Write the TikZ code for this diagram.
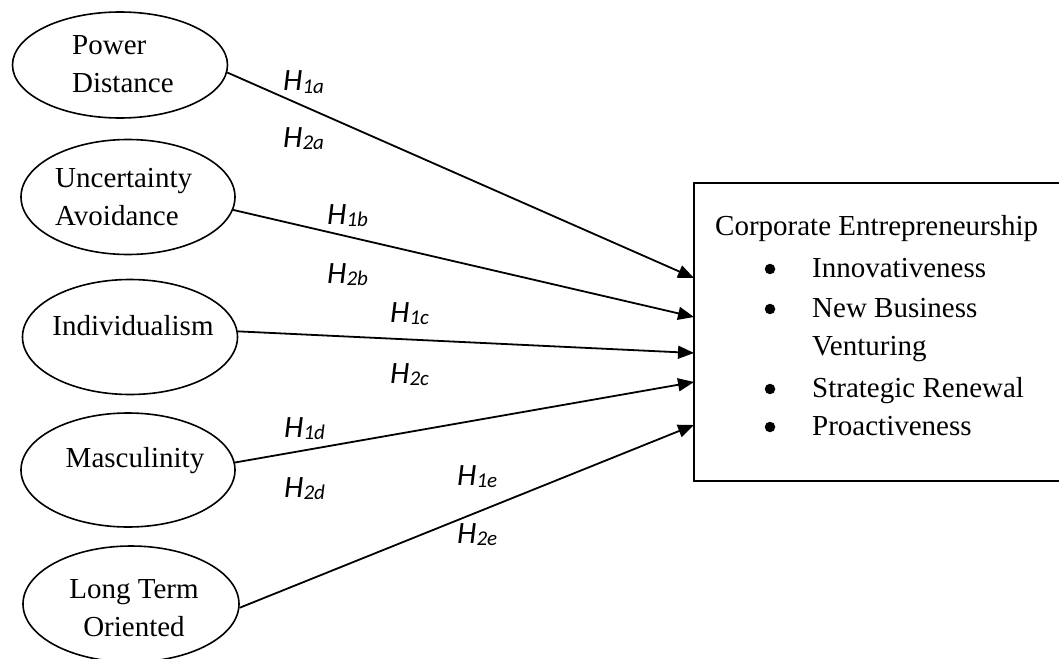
\documentclass[tikz,border=0pt]{standalone}
\usepackage{fontspec}
\setmainfont{Liberation Serif}
\newfontfamily\lblfont{Carlito}
\usetikzlibrary{arrows.meta,shapes.geometric}
\newcommand\hlab[1]{H\raisebox{-2.5pt}{\fontsize{21}{21}\selectfont #1}}
\begin{document}
\begin{tikzpicture}[x=1pt,y=-1pt,
  oval/.style={ellipse, draw, line width=1.6pt, inner sep=0pt},
  txt/.style={inner sep=0pt, font=\fontsize{29}{38}\selectfont},
  dot/.style={circle, fill, inner sep=0pt, minimum size=10.5pt},
  lbl/.style={inner sep=0pt, anchor=base west, font=\lblfont\itshape\fontsize{31}{36}\selectfont},
  link/.style={line width=1.8pt, -{Triangle[length=16pt,width=13pt]}},
]
\useasboundingbox (0,0) rectangle (1059,658);
\clip (0,0) rectangle (1059,658);

% ellipses
\node[oval, minimum width=215pt, minimum height=106pt] (e1) at (120,65) {};
\node[oval, minimum width=214pt, minimum height=115pt] (e2) at (128,197) {};
\node[oval, minimum width=215pt, minimum height=115pt] (e3) at (130,337) {};
\node[oval, minimum width=214pt, minimum height=114pt] (e4) at (128,470) {};
\node[oval, minimum width=216pt, minimum height=116pt] (e5) at (131,604) {};

% ellipse texts
\node[txt, anchor=base west] (pd1) at (72,55) {Power};
\node[txt, anchor=base west] (pd2) at (72,93) {Distance};
\node[txt, anchor=base west] (ua1) at (55,187) {Uncertainty};
\node[txt, anchor=base west] (ua2) at (55,225) {Avoidance};
\node[txt, anchor=base] (ind) at (133,335) {Individualism};
\node[txt, anchor=base] (mas) at (135,467) {Masculinity};
\node[txt, anchor=base] (lt1) at (134,598) {Long Term};
\node[txt, anchor=base] (lt2) at (134,636) {Oriented};

% outcome box
\node[draw, line width=1.6pt, minimum width=376pt, minimum height=298pt, inner sep=0pt] (box) at (882,332) {};
\node[txt, anchor=base west] (ce) at (715,235) {Corporate Entrepreneurship};
\node[dot] (b1) at (770,269) {};
\node[txt, anchor=base west] (i1) at (812,277) {Innovativeness};
\node[dot] (b2) at (770,309) {};
\node[txt, anchor=base west] (i2) at (812,317) {New Business};
\node[txt, anchor=base west] (i2b) at (812,355) {Venturing};
\node[dot] (b3) at (770,389) {};
\node[txt, anchor=base west] (i3) at (812,397) {Strategic Renewal};
\node[dot] (b4) at (770,427) {};
\node[txt, anchor=base west] (i4) at (812,435) {Proactiveness};

% arrow targets on the box edge
\coordinate (t1) at (694,278);
\coordinate (t2) at (694,317);
\coordinate (t3) at (694,353);
\coordinate (t4) at (694,382);
\coordinate (t5) at (694,425);

\draw[link] (e1.-4) -- (t1);
\draw[link] (e2.-7) -- (t2);
\draw[link] (e3.3) -- (t3);
\draw[link] (e4.4) -- (t4);
\draw[link] (e5.-2) -- (t5);

% hypothesis labels
\node[lbl] (h1a) at (283,91) {\hlab{1a}};
\node[lbl] (h2a) at (283,147) {\hlab{2a}};
\node[lbl] (h1b) at (327,224) {\hlab{1b}};
\node[lbl] (h2b) at (327,283) {\hlab{2b}};
\node[lbl] (h1c) at (390,322) {\hlab{1c}};
\node[lbl] (h2c) at (390,383) {\hlab{2c}};
\node[lbl] (h1d) at (284,437) {\hlab{1d}};
\node[lbl] (h2d) at (284,497) {\hlab{2d}};
\node[lbl] (h1e) at (457,485) {\hlab{1e}};
\node[lbl] (h2e) at (457,543) {\hlab{2e}};
\end{tikzpicture}
\end{document}
